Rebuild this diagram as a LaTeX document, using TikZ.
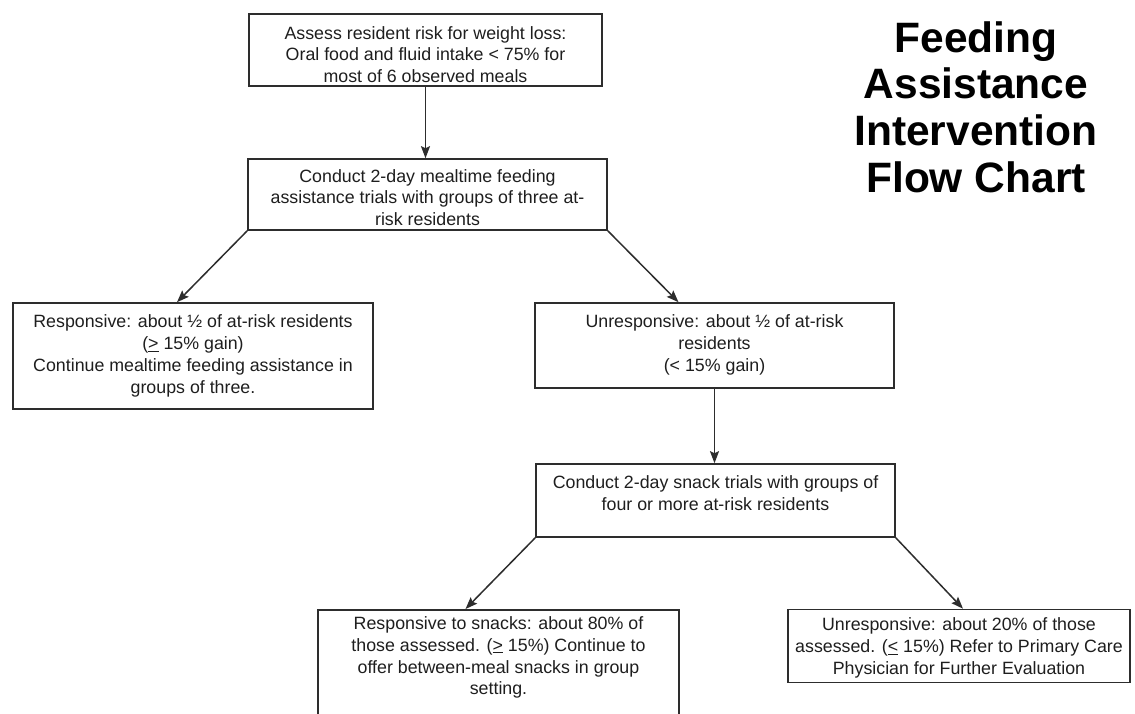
\documentclass[tikz,border=0pt]{standalone}
\usepackage{fontspec}
\setmainfont{Liberation Sans}
\usetikzlibrary{arrows.meta}
\definecolor{ink}{RGB}{30,30,30}
\definecolor{edge}{RGB}{45,45,45}
\tikzset{
  box/.style={draw=edge, line width=1.6pt, rectangle, inner sep=2pt},
  txt/.style={text=ink, align=center, inner sep=0pt, font=\fontsize{17.8}{21.8}\selectfont},
  arr/.style={draw=edge, line width=1.5pt, -{Stealth[length=12pt,width=9pt,inset=2pt]}},
  ttl/.style={align=center, inner sep=0pt, font=\fontsize{42.5}{46.7}\selectfont\bfseries}
}
\begin{document}
\begin{tikzpicture}[x=1pt,y=-1pt]
\useasboundingbox (0,0) rectangle (1135,713);
% boxes
\node[box, minimum width=353pt, minimum height=72pt] (b1) at (425.5,50) {};
\node[txt] (t1) at (425.5,54.5) {Assess resident risk for weight loss:\\Oral food and fluid intake < 75\% for\\most of 6 observed meals};
\node[box, minimum width=359pt, minimum height=71pt] (b2) at (427.5,194.5) {};
\node[txt] (t2) at (427.5,197.5) {Conduct 2-day mealtime feeding\\assistance trials with groups of three at-\\risk residents};
\node[box, minimum width=360pt, minimum height=106pt] (b3) at (193,356) {};
\node[txt] (t3) at (193,356) {Responsive: about ½ of at-risk residents\\(\underline{>} 15\% gain)\\Continue mealtime feeding assistance in\\groups of three.};
\node[box, minimum width=359pt, minimum height=85pt] (b4) at (714.5,345.5) {};
\node[txt] (t4) at (714.5,345) {Unresponsive: about ½ of at-risk\\residents\\(< 15\% gain)};
\node[box, minimum width=359pt, minimum height=73pt] (b5) at (715.5,500.5) {};
\node[txt] (t5) at (715.5,493.5) {Conduct 2-day snack trials with groups of\\four or more at-risk residents};
\node[box, minimum width=361pt, minimum height=120pt, anchor=north] (b6) at (498.5,609) {};
\node[txt] (t6) at (498.5,657.5) {Responsive to snacks: about 80\% of\\those assessed. (\underline{>} 15\%) Continue to\\offer between-meal snacks in group\\setting.};
\node[box, minimum width=342pt, minimum height=73pt] (b7) at (959,646) {};
\node[txt] (t7) at (959,648) {Unresponsive: about 20\% of those\\assessed. (\underline{<} 15\%) Refer to Primary Care\\Physician for Further Evaluation};
% title
\node[ttl] (title) at (976,107) {Feeding\\Assistance\\Intervention\\Flow Chart};
% connectors
\draw[arr] (b1.south) -- (b1.south |- b2.north);
\draw[arr] (b2.south west) -- ([xshift=-16pt]b3.north);
\draw[arr] (b2.south east) -- ([xshift=-36pt]b4.north);
\draw[arr] (b4.south) -- (b4.south |- b5.north);
\draw[arr] (b5.south west) -- ([xshift=-33pt]b6.north);
\draw[arr] (b5.south east) -- ([xshift=4pt]b7.north);
\end{tikzpicture}
\end{document}
